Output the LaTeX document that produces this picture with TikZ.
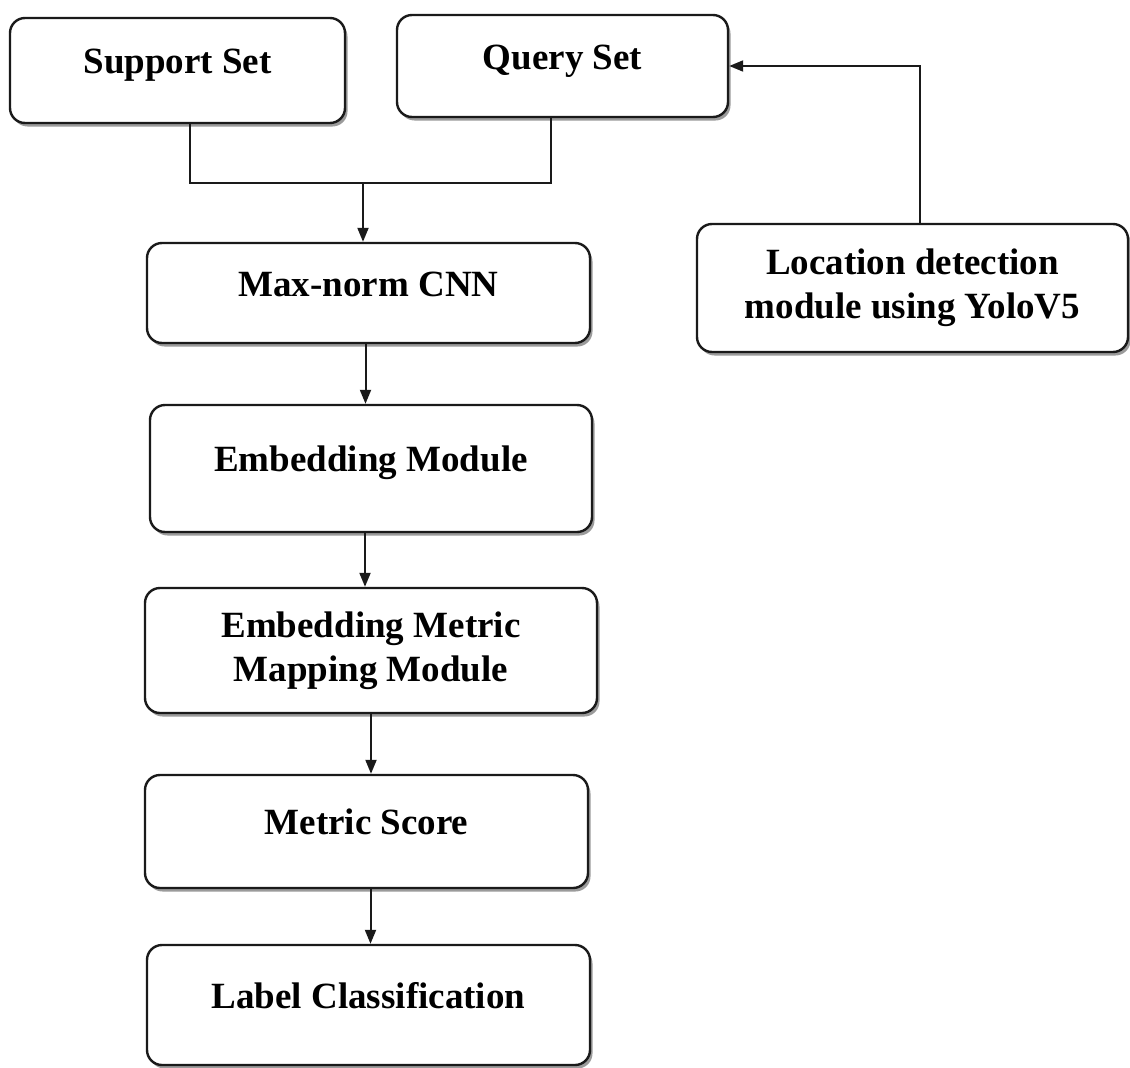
\documentclass[tikz,border=0pt]{standalone}
\usepackage{fontspec}
\setmainfont{Liberation Serif}
\usepackage{tikz}
\usetikzlibrary{arrows.meta, positioning, calc, shadows}
\definecolor{edgeblack}{HTML}{1A1A1A}
\definecolor{shadowgray}{HTML}{707070}

\begin{document}
\begin{tikzpicture}[x=1pt, y=1pt,
    font=\fontsize{37}{44}\selectfont\bfseries,
    block/.style={rectangle, rounded corners=15pt, draw=edgeblack, line width=2.4pt, fill=white,
      align=center, text centered, inner sep=0pt,
      drop shadow={shadow xshift=2.5pt, shadow yshift=-3.5pt, fill=shadowgray, opacity=0.7}},
    oneline/.style={text height=26pt, text depth=20pt},
    link/.style={line width=2pt, edgeblack},
    flow/.style={link, -{Triangle[length=14pt, width=11pt]}}]

    \useasboundingbox (0,0) rectangle (1130,-1068);

    \node (support) [block, oneline, minimum width=335pt, minimum height=105pt] at (177.5,-70.5) {Support Set};
    \node (query) [block, oneline, minimum width=331pt, minimum height=102pt] at (562.5,-66) {Query Set};
    \node (maxnorm) [block, oneline, minimum width=443pt, minimum height=100pt] at (368.5,-293) {Max-norm CNN};
    \node (locate) [block, minimum width=431pt, minimum height=128pt] at (912.5,-288) {Location detection\\module using YoloV5};
    \node (embed) [block, oneline, minimum width=442pt, minimum height=127pt] at (371,-468.5) {Embedding Module};
    \node (mapping) [block, minimum width=452pt, minimum height=125pt] at (371,-650.5) {Embedding Metric\\Mapping Module};
    \node (score) [block, oneline, minimum width=443pt, minimum height=113pt] at (366.5,-831.5) {Metric Score};
    \node (label) [block, oneline, minimum width=443pt, minimum height=120pt] at (368.5,-1005) {Label Classification};

    \coordinate (merge) at (363,-183);

    \draw [link] ([xshift=12pt]support.south) |- (merge) -| ([xshift=-12pt]query.south);
    \draw [flow] (merge) -- (maxnorm.north -| merge);
    \draw [flow] ([xshift=-3pt]maxnorm.south) -- ([xshift=-3pt]maxnorm.south |- embed.north);
    \draw [flow] ([xshift=-6pt]embed.south) -- ([xshift=-6pt]embed.south |- mapping.north);
    \draw [flow] (mapping.south) -- (mapping.south |- score.north);
    \draw [flow] ([xshift=4pt]score.south) -- ([xshift=4pt]score.south |- label.north);
    \draw [flow] ([xshift=7pt]locate.north) |- (query.east);
\end{tikzpicture}
\end{document}
